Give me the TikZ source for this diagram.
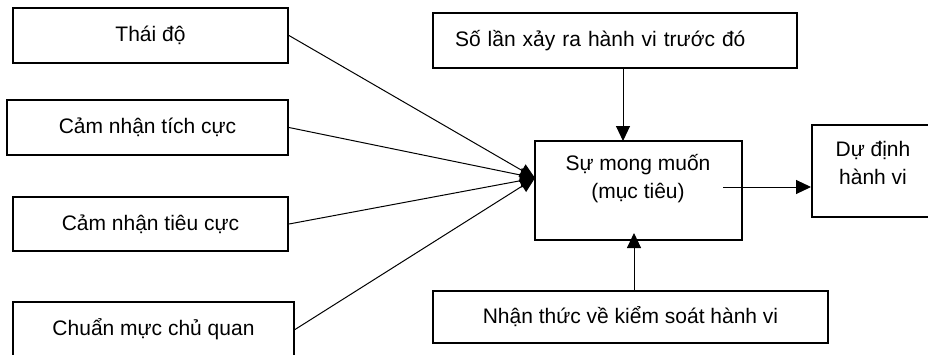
\documentclass[tikz,border=0pt]{standalone}
\usepackage{fontspec}
\setmainfont{Liberation Sans}
\usetikzlibrary{arrows.meta}
\begin{document}
\begin{tikzpicture}[x=1pt,y=-1pt,
  box/.style={draw, line width=2pt, inner sep=0pt, font=\fontsize{21}{28}\selectfont},
  txt/.style={inner sep=0pt, align=center, font=\fontsize{21}{28}\selectfont},
  arr/.style={line width=1pt, -{Triangle[length=15pt,width=14pt]}}]
\useasboundingbox (0,0) rectangle (928,354);
\clip (0,0) rectangle (928,354);
\fill[white] (0,0) rectangle (928,354);
% left boxes
\node[box, minimum width=275pt, minimum height=55pt] (att) at (150.5,35.5) {Thái độ};
\node[box, minimum width=281pt, minimum height=55pt] (pos) at (147.5,127.5) {Cảm nhận tích cực};
\node[box, minimum width=275pt, minimum height=54pt] (neg) at (150.5,224) {Cảm nhận tiêu cực};
\node[box, minimum width=281pt, minimum height=55pt] (norm) at (153.5,329.5) {Chuẩn mực chủ quan};
% top, centre, right, bottom
\node[box, minimum width=364pt, minimum height=55pt, text width=320pt, inner xsep=22pt, align=left] (prior) at (615,40.5) {Số lần xảy ra hành vi trước đó};
\node[box, minimum width=207pt, minimum height=99pt] (goal) at (638.5,190.5) {};
\node[txt] (goaltxt) at (638,179) {Sự mong muốn\\(mục tiêu)};
\node[box, minimum width=122pt, minimum height=92pt] (intent) at (873,171) {};
\node[txt] (intenttxt) at (873,162.5) {Dự định\\hành vi};
\node[box, minimum width=395pt, minimum height=52pt] (ctrl) at (630.5,317) {Nhận thức về kiểm soát hành vi};
% connectors
\coordinate (conv) at (535,178);
\draw[arr] (att.east) -- (conv);
\draw[arr] (pos.east) -- (conv);
\draw[arr] (neg.east) -- (conv);
\draw[arr] (norm.east) -- (conv);
\coordinate (dtip) at (623,141);
\draw[arr] (prior.south -| dtip) -- (dtip);
\coordinate (utip) at (634,233);
\draw[arr] (ctrl.north -| utip) -- (utip);
\coordinate (gout) at (723,187);
\draw[arr] (gout) -- (intent.west |- gout);
\end{tikzpicture}
\end{document}
